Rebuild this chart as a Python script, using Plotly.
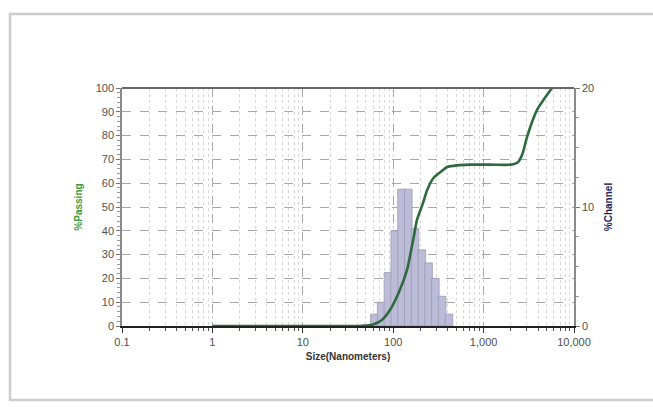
import math
import plotly.graph_objects as go

# ---- data ----
size_nm = [1, 10, 40, 50, 60, 75, 92, 115, 142, 166, 183, 214, 237, 276, 356, 394,
           508, 700, 1200, 2000, 2400, 2700, 3020, 3900, 4800, 5710]
passing_pct = [0, 0, 0, 0.2, 0.6, 2.5, 6.7, 14, 23.5, 36, 44.5, 51.7, 57, 62, 65.5, 66.8,
               67.5, 67.8, 67.8, 67.8, 68.8, 72.5, 79.4, 90.8, 96, 100]

# histogram bins (lower edge, nm) and % in channel
bin_lower_nm = [56.2, 66.8, 79.4, 94.4, 112.2, 133.4, 158.5, 188.4, 223.9, 266.1, 316.2, 375.8]
channel_pct = [1.0, 2.0, 4.5, 8.0, 11.5, 11.5, 8.2, 6.4, 5.3, 4.0, 2.5, 1.0]
bins_per_decade = 12

x_tickvals = [0.1, 1, 10, 100, 1000, 10000]
x_ticktext = ["0.1", "1", "10", "100", "1,000", "10,000"]

W, H = 653, 407
L, T = 122, 88
PW, PH = 452, 238
R, B = W - L - PW, H - T - PH

bar_x = [math.log10(v) + 0.5 / bins_per_decade for v in bin_lower_nm]
bar_w = 1.0 / bins_per_decade

font = "Liberation Sans, Arial, sans-serif"
fig = go.Figure()

fig.add_trace(go.Bar(
    x=bar_x, y=channel_pct, width=bar_w,
    marker=dict(color="#bcbcd8", line=dict(color="#9a9ab4", width=0.8)),
    xaxis="x", yaxis="y", showlegend=False, hoverinfo="skip"))

fig.add_trace(go.Scatter(
    x=size_nm, y=passing_pct, mode="lines",
    line=dict(color="#2f6a3c", width=2.6, shape="spline", smoothing=0.6),
    xaxis="x2", yaxis="y2", showlegend=False))

grid_c = "#a8a8a8"


def px_x(px):
    return (px - L) / PW


def px_y(py):
    return (T + PH - py) / PH


xl, xr = px_x(10), px_x(660)
yt, yb = px_y(14), px_y(400)
frame_path = f"M {xr},{yt} L {xl},{yt} L {xl},{yb} L {xr},{yb}"

fig.update_layout(
    width=W, height=H,
    margin=dict(l=L, r=R, t=T, b=B, pad=0),
    paper_bgcolor="white", plot_bgcolor="white",
    font=dict(family=font, size=11, color="#444"),
    xaxis=dict(range=[-1, 4], visible=False, showgrid=False, zeroline=False),
    yaxis=dict(range=[0, 20], side="right", tickvals=[0, 10, 20],
               ticks="outside", ticklen=4, tickcolor="#777",
               showgrid=False, zeroline=False,
               showline=True, linecolor="#8a8a8a", linewidth=1.5,
               minor=dict(dtick=2.5, ticks="outside", ticklen=3, tickcolor="#999"),
               title=dict(text="<b>%Channel</b>", font=dict(color="#1c1f5c", size=10), standoff=12),
               tickfont=dict(size=11, color="#505050")),
    xaxis2=dict(type="log", range=[-1, 4], overlaying="x", anchor="y2", side="bottom",
                tickvals=x_tickvals, ticktext=x_ticktext,
                ticks="outside", ticklen=5, tickcolor="#333",
                showgrid=True, gridcolor=grid_c, griddash="dash", gridwidth=1,
                minor=dict(dtick="D1", ticks="outside", ticklen=3, tickcolor="#555",
                           showgrid=True, gridcolor="#d8d8d8", griddash="dot"),
                showline=True, linecolor="#222", linewidth=1.6, mirror=False,
                zeroline=False,
                title=dict(text="<b>Size(Nanometers)</b>", font=dict(color="#333", size=10), standoff=6),
                tickfont=dict(size=11, color="#505050")),
    yaxis2=dict(range=[0, 100], overlaying="y", side="left", anchor="x2",
                dtick=10, ticks="outside", ticklen=4, tickcolor="#777",
                showgrid=True, gridcolor=grid_c, griddash="dash", gridwidth=1,
                minor=dict(dtick=2, ticks="outside", ticklen=3, tickcolor="#999"),
                showline=True, linecolor="#8a8a8a", linewidth=1.5,
                zeroline=False,
                title=dict(text="<b>%Passing</b>", font=dict(color="#3c9a3c", size=10), standoff=11),
                tickfont=dict(size=11, color="#505050")),
    shapes=[
        # top border of plot area
        dict(type="line", xref="paper", yref="paper", x0=0, x1=1, y0=1, y1=1,
             line=dict(color="#666", width=2.2)),
        # outer card frame (left, top, bottom edges; open on the right)
        dict(type="path", xref="paper", yref="paper", path=frame_path,
             line=dict(color="#cdcdcd", width=2.5), layer="below"),
    ],
)

fig.write_html(
    "out.html",
    config={"displayModeBar": False},
    post_script="document.body.style.margin='0';document.body.style.overflow='hidden';",
)
